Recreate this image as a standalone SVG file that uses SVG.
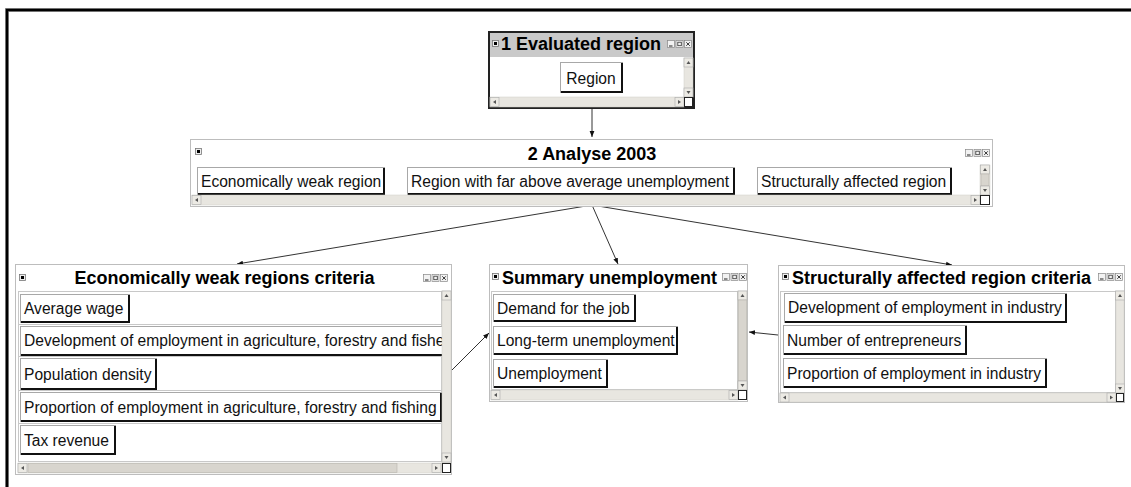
<svg xmlns="http://www.w3.org/2000/svg" width="1131" height="487" viewBox="0 0 1131 487">
<style>
.t{font-family:"Liberation Sans",Arial,sans-serif;font-weight:bold;font-size:18px;fill:#000}
.b{font-family:"Liberation Sans",Arial,sans-serif;font-size:15.6px;fill:#111}
.win{fill:#fff;stroke:#bdbdbd;stroke-width:1}
.btn{fill:#fff;stroke:#a8a8a8;stroke-width:1}
.sh{fill:none;stroke:#111;stroke-width:2}
.row{fill:#fff;stroke:#c8c8c8;stroke-width:1}
.trk{fill:#e8e6e0;stroke:#d0cec8;stroke-width:0.5}
.thm{fill:#d8d5ce;stroke:#b8b5ae;stroke-width:0.6}
.cor{fill:#fff;stroke:#222;stroke-width:1}
.con{fill:none;stroke:#333;stroke-width:1}
</style>
<defs>
<marker id="ah" viewBox="0 0 10 10" refX="10" refY="5" markerWidth="6" markerHeight="6" orient="auto" markerUnits="userSpaceOnUse">
<path d="M0,1 L10,5 L0,9 z" fill="#111"/>
</marker>
<g id="sys"><rect x="0.5" y="0.5" width="6" height="6" fill="#eee" stroke="#777" stroke-width="0.8"/><rect x="2" y="2" width="3" height="3" fill="#000"/></g>
<g id="ctl">
<rect x="0.5" y="0.5" width="7" height="7" fill="#f2f2f2" stroke="#888" stroke-width="0.7"/>
<path d="M2,6 H5.5" stroke="#222" stroke-width="1"/>
<rect x="9" y="0.5" width="7" height="7" fill="#f2f2f2" stroke="#888" stroke-width="0.7"/>
<rect x="10.8" y="2.2" width="3.5" height="3.5" fill="none" stroke="#333" stroke-width="0.8"/>
<rect x="17.5" y="0.5" width="7" height="7" fill="#f2f2f2" stroke="#888" stroke-width="0.7"/>
<path d="M19.3,2.3 L22.8,5.8 M22.8,2.3 L19.3,5.8" stroke="#222" stroke-width="0.9"/>
</g>
<g id="ua"><rect x="0" y="0" width="9" height="9" fill="#eceae4" stroke="#aaa" stroke-width="0.6"/><path d="M2.5,6 L4.5,3 L6.5,6 z" fill="#555"/></g>
<g id="da"><rect x="0" y="0" width="9" height="9" fill="#eceae4" stroke="#aaa" stroke-width="0.6"/><path d="M2.5,3 L4.5,6 L6.5,3 z" fill="#555"/></g>
<g id="la"><rect x="0" y="0" width="9" height="9" fill="#eceae4" stroke="#aaa" stroke-width="0.6"/><path d="M6,2.5 L3,4.5 L6,6.5 z" fill="#555"/></g>
<g id="ra"><rect x="0" y="0" width="9" height="9" fill="#eceae4" stroke="#aaa" stroke-width="0.6"/><path d="M3,2.5 L6,4.5 L3,6.5 z" fill="#555"/></g>
<clipPath id="c3"><rect x="18" y="290" width="424" height="172"/></clipPath>
</defs>

<rect width="1131" height="487" fill="#fff"/>
<path d="M7,487 V10 H1131" fill="none" stroke="#999" stroke-width="4"/>
<path d="M7,487 V10 H1131" fill="none" stroke="#000" stroke-width="2.5"/>

<g id="connectors">
<path class="con" d="M592,109 L592,137" marker-end="url(#ah)"/>
<path class="con" d="M592,205 L237,264" marker-end="url(#ah)"/>
<path class="con" d="M592,205 L618,264" marker-end="url(#ah)"/>
<path class="con" d="M592,205 L952,265" marker-end="url(#ah)"/>
<path class="con" d="M452,370 L489,333" marker-end="url(#ah)"/>
<path class="con" d="M778,335 L749,332" marker-end="url(#ah)"/>
</g>

<g id="node1">
<rect x="489" y="32" width="205" height="76" fill="#fff" stroke="#222" stroke-width="2"/>
<rect x="490" y="33" width="203" height="24" fill="#c9c9c9"/>
<use href="#sys" x="492" y="40"/>
<text class="t" x="501" y="50">1 Evaluated region</text>
<use href="#ctl" x="667" y="40"/>
<rect class="btn" x="560.5" y="62.5" width="62" height="30"/>
<path class="sh" d="M622,63 V92 H561"/>
<text class="b" x="591" y="83.5" text-anchor="middle">Region</text>
<rect class="trk" x="684" y="58" width="9" height="39"/>
<use href="#ua" x="684" y="58"/>
<use href="#da" x="684" y="88"/>
<rect class="trk" x="490" y="97" width="194" height="10"/>
<use href="#la" x="490" y="97.5"/>
<use href="#ra" x="675" y="97.5"/>
<rect class="cor" x="684.5" y="97.5" width="8" height="9"/>
</g>

<g id="node2">
<rect class="win" x="190.5" y="139.5" width="802" height="67"/>
<use href="#sys" x="195" y="148"/>
<text class="t" x="592" y="160" text-anchor="middle">2 Analyse 2003</text>
<use href="#ctl" x="965" y="149"/>
<rect class="btn" x="197.5" y="167.5" width="187" height="27"/>
<path class="sh" d="M384,168 V194 H198"/>
<text class="b" x="201" y="186.5">Economically weak region</text>
<rect class="btn" x="407.5" y="167.5" width="327" height="27"/>
<path class="sh" d="M734,168 V194 H408"/>
<text class="b" x="411" y="186.5">Region with far above average unemployment</text>
<rect class="btn" x="757.5" y="167.5" width="194" height="27"/>
<path class="sh" d="M951,168 V194 H758"/>
<text class="b" x="761" y="186.5">Structurally affected region</text>
<rect class="trk" x="980" y="165" width="10" height="30"/>
<use href="#ua" x="980.5" y="165"/>
<rect class="thm" x="981" y="174" width="8" height="12"/>
<use href="#da" x="980.5" y="186"/>
<rect class="trk" x="192" y="195" width="788" height="10"/>
<use href="#la" x="192" y="195.5"/>
<use href="#ra" x="971" y="195.5"/>
<rect class="cor" x="980.5" y="195.5" width="9" height="9"/>
</g>

<g id="node3">
<rect class="win" x="15.5" y="264.5" width="436" height="210"/>
<use href="#sys" x="19" y="274"/>
<text class="t" x="224.5" y="284" text-anchor="middle">Economically weak regions criteria</text>
<use href="#ctl" x="423" y="274"/>
<rect class="row" x="18.5" y="291.5" width="423" height="33"/>
<rect class="row" x="18.5" y="324.5" width="423" height="32"/>
<rect class="row" x="18.5" y="356.5" width="423" height="34"/>
<rect class="row" x="18.5" y="390.5" width="423" height="33"/>
<rect class="row" x="18.5" y="423.5" width="423" height="38"/>
<rect class="btn" x="20.5" y="294.5" width="109" height="28"/>
<path class="sh" d="M129,295 V322 H21"/>
<text class="b" x="24" y="313.5">Average wage</text>
<rect class="btn" x="20.5" y="326.5" width="425" height="29"/>
<path class="sh" d="M21,355 H442"/>
<text class="b" x="24" y="346" clip-path="url(#c3)">Development of employment in agriculture, forestry and fishe</text>
<rect class="btn" x="20.5" y="358.5" width="136" height="31"/>
<path class="sh" d="M156,359 V389 H21"/>
<text class="b" x="24" y="379.5">Population density</text>
<rect class="btn" x="20.5" y="392.5" width="421" height="29"/>
<path class="sh" d="M441,393 V421 H21"/>
<text class="b" x="24" y="412.5">Proportion of employment in agriculture, forestry and fishing</text>
<rect class="btn" x="20.5" y="425.5" width="95" height="29"/>
<path class="sh" d="M115,426 V454 H21"/>
<text class="b" x="24" y="445.5">Tax revenue</text>
<rect class="trk" x="442" y="291" width="9" height="172"/>
<use href="#ua" x="442" y="291"/>
<use href="#da" x="442" y="453"/>
<rect class="trk" x="18" y="463" width="424" height="10"/>
<rect class="thm" x="28" y="463.5" width="369" height="9"/>
<use href="#la" x="18" y="463.5"/>
<use href="#ra" x="432" y="463.5"/>
<rect class="cor" x="442.5" y="463.5" width="8" height="9"/>
</g>

<g id="node4">
<rect class="win" x="489.5" y="264.5" width="258" height="137"/>
<use href="#sys" x="492" y="273"/>
<text class="t" x="502" y="284">Summary unemployment</text>
<use href="#ctl" x="722" y="273"/>
<rect class="row" x="491.5" y="291.5" width="246" height="98"/>
<rect class="btn" x="493.5" y="294.5" width="142" height="27"/>
<path class="sh" d="M635,295 V321 H494"/>
<text class="b" x="497" y="313.5">Demand for the job</text>
<rect class="btn" x="493.5" y="326.5" width="184" height="28"/>
<path class="sh" d="M677,327 V354 H494"/>
<text class="b" x="497" y="346">Long-term unemployment</text>
<rect class="btn" x="493.5" y="359.5" width="114" height="28"/>
<path class="sh" d="M607,360 V387 H494"/>
<text class="b" x="497" y="379">Unemployment</text>
<rect class="trk" x="738" y="291" width="9" height="99"/>
<use href="#ua" x="738" y="291"/>
<rect class="thm" x="738.5" y="300" width="8" height="81"/>
<use href="#da" x="738" y="381"/>
<rect class="trk" x="491" y="390" width="247" height="10"/>
<use href="#la" x="491" y="390.5"/>
<use href="#ra" x="729" y="390.5"/>
<rect class="cor" x="738.5" y="390.5" width="8" height="9"/>
</g>

<g id="node5">
<rect class="win" x="778.5" y="265.5" width="346" height="137"/>
<use href="#sys" x="782" y="273"/>
<text class="t" x="792" y="284">Structurally affected region criteria</text>
<use href="#ctl" x="1098" y="273"/>
<rect class="row" x="780.5" y="291.5" width="335" height="101"/>
<rect class="btn" x="784.5" y="293.5" width="282" height="29"/>
<path class="sh" d="M1066,294 V322 H785"/>
<text class="b" x="788" y="313">Development of employment in industry</text>
<rect class="btn" x="783.5" y="325.5" width="183" height="29"/>
<path class="sh" d="M966,326 V354 H784"/>
<text class="b" x="787" y="345.5">Number of entrepreneurs</text>
<rect class="btn" x="783.5" y="358.5" width="263" height="29"/>
<path class="sh" d="M1046,359 V387 H784"/>
<text class="b" x="787" y="378.5">Proportion of employment in industry</text>
<rect class="trk" x="1116" y="291" width="8" height="102"/>
<use href="#ua" x="1115.5" y="291"/>
<use href="#da" x="1115.5" y="384"/>
<rect class="trk" x="780" y="393" width="336" height="9"/>
<use href="#la" x="780" y="393"/>
<use href="#ra" x="1107" y="393"/>
<rect class="cor" x="1116.5" y="393.5" width="7" height="8"/>
</g>
</svg>
